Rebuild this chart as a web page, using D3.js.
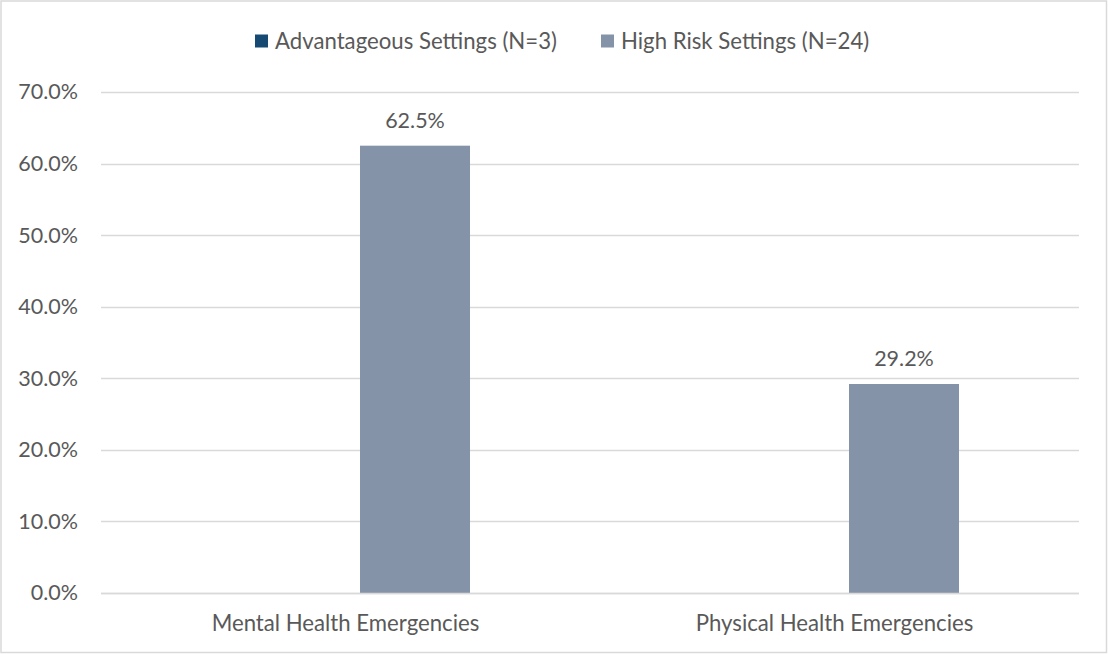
<!DOCTYPE html>
<html>
<head>
<meta charset="utf-8">
<script src="https://cdn.jsdelivr.net/npm/d3@7"></script>
<style>
  html, body { margin: 0; padding: 0; background: #fff; }
  svg { display: block; }
  text { font-family: Lato, "Open Sans", sans-serif; fill: #595959; }
</style>
</head>
<body>
<svg id="chart" width="1108" height="654"></svg>
<script>
const categories = ["Mental Health Emergencies", "Physical Health Emergencies"];
const seriesNames = ["Advantageous Settings (N=3)", "High Risk Settings (N=24)"];
const advantageousValues = [0, 0];
const highRiskValues = [0.625, 0.292];
const yTicks = [0, 0.1, 0.2, 0.3, 0.4, 0.5, 0.6, 0.7];
const seriesColors = ["#174a72", "#8593a9"];

const seriesValues = [advantageousValues, highRiskValues];

const W = 1108, H = 654;
const margin = { left: 101, right: 29, top: 92, bottom: 61 };
const plotW = W - margin.left - margin.right;
const plotH = H - margin.top - margin.bottom;
const FS = 21.5;
const FS_TXT = 22.2;

const svg = d3.select("#chart");

// border
svg.append("rect")
  .attr("x", 1).attr("y", 1).attr("width", W - 2.5).attr("height", H - 2.5)
  .attr("fill", "none").attr("stroke", "#d9d9d9").attr("stroke-width", 1.5);

const g = svg.append("g").attr("transform", `translate(${margin.left},${margin.top})`);

const x = d3.scaleBand().domain(categories).range([0, plotW]).padding(0);
const y = d3.scaleLinear().domain([0, 0.7]).range([plotH, 0]);

const groupW = 249;
const xs = d3.scaleBand().domain(seriesNames).range([-groupW / 2, groupW / 2])
  .paddingInner(29 / 139).paddingOuter(0);

// gridlines
g.append("g")
  .selectAll("line")
  .data(yTicks)
  .join("line")
  .attr("x1", 0).attr("x2", plotW)
  .attr("y1", d => Math.round(y(d)) + 0.5).attr("y2", d => Math.round(y(d)) + 0.5)
  .attr("stroke", "#d9d9d9").attr("stroke-width", 1.3);

// y axis labels
const yAxis = d3.axisLeft(y).tickValues(yTicks).tickFormat(d3.format(".1%")).tickSize(0).tickPadding(23);
const ya = g.append("g").call(yAxis);
ya.select(".domain").remove();
ya.selectAll("text").attr("font-size", FS).attr("fill", "#595959")
  .style("font-family", "Lato, 'Open Sans', sans-serif");

// bars
const data = [];
seriesNames.forEach((s, si) => {
  categories.forEach((c, ci) => {
    data.push({ series: s, si, cat: c, value: seriesValues[si][ci] });
  });
});

g.append("g").selectAll("rect")
  .data(data.filter(d => d.value > 0))
  .join("rect")
  .attr("x", d => x(d.cat) + x.bandwidth() / 2 + xs(d.series))
  .attr("width", xs.bandwidth())
  .attr("y", d => y(d.value))
  .attr("height", d => y(0) - y(d.value))
  .attr("fill", d => seriesColors[d.si]);

g.append("line")
  .attr("x1", 0).attr("x2", plotW)
  .attr("y1", Math.round(y(0)) + 0.5).attr("y2", Math.round(y(0)) + 0.5)
  .attr("stroke", "#d9d9d9").attr("stroke-width", 1.3);

// data labels
g.append("g").selectAll("text")
  .data(data.filter(d => d.value > 0))
  .join("text")
  .attr("x", d => x(d.cat) + x.bandwidth() / 2 + xs(d.series) + xs.bandwidth() / 2)
  .attr("y", d => y(d.value) - 18)
  .attr("text-anchor", "middle")
  .attr("font-size", FS)
  .text(d => d3.format(".1%")(d.value));

// x axis labels
const xAxis = d3.axisBottom(x).tickSize(0).tickPadding(22);
const xa = g.append("g").attr("transform", `translate(0,${plotH})`).call(xAxis);
xa.select(".domain").remove();
xa.selectAll("text").attr("font-size", FS_TXT).attr("fill", "#595959")
  .style("font-family", "Lato, 'Open Sans', sans-serif");

// legend
const legend = svg.append("g").attr("transform", "translate(0,41)");
const legendX = [255, 601];
seriesNames.forEach((s, i) => {
  const lg = legend.append("g").attr("transform", `translate(${legendX[i]},0)`);
  lg.append("rect").attr("x", 0).attr("y", -6.5).attr("width", 13).attr("height", 13)
    .attr("fill", seriesColors[i]);
  lg.append("text").attr("x", 20).attr("y", 0).attr("dy", "0.35em")
    .attr("font-size", FS_TXT).text(s);
});
</script>
</body>
</html>
